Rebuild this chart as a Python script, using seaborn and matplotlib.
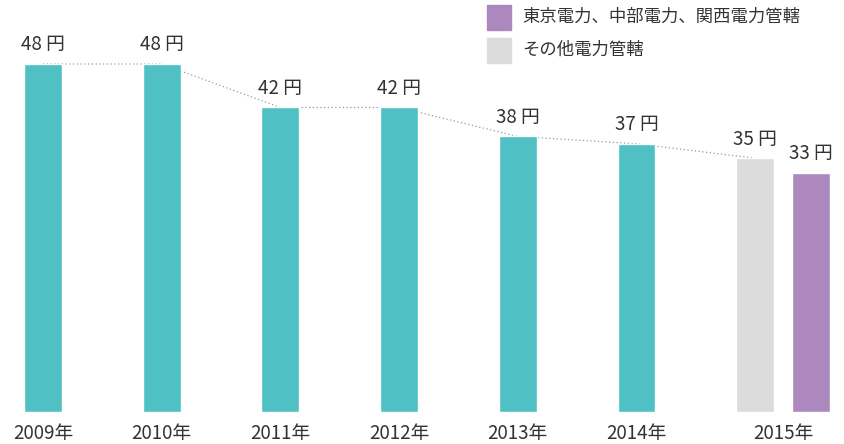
import matplotlib
matplotlib.use("Agg")
from matplotlib import pyplot as plt
from matplotlib.patches import Rectangle
import seaborn as sns

years = ["2009年", "2010年", "2011年", "2012年", "2013年", "2014年", "2015年"]
xpos = [0, 1, 2, 3, 4, 5, 6, 6.47]
values = [48, 48, 42, 42, 38, 37, 35, 33]
groups = ["a", "a", "a", "a", "a", "a", "other", "east"]
legend_labels = ["東京電力、中部電力、関西電力管轄", "その他電力管轄"]

colors = {"a": "#4FC1C4", "other": "#DCDCDC", "east": "#AC88BF"}
txt = "#333333"

sns.set_theme(style="white")
plt.rcParams['font.family'] = ['Noto Sans CJK JP', 'DejaVu Sans']

fig = plt.figure(figsize=(8.44, 4.44), dpi=100)
ax = fig.add_axes([0, 32/444, 1, 412/444])
sns.barplot(x=xpos, y=values, hue=groups, palette=colors, dodge=False,
            native_scale=True, width=0.32/0.47, legend=False, ax=ax, saturation=1)
ax.set_xlim(-0.362, 6.748)
ax.set_ylim(0, 412/7.25)
ax.axis("off")

# dotted trend line across bar tops
ax.plot(xpos[:7], values[:7], ls=(0, (1, 2)), color="#999999", lw=0.9, zorder=0)

for x, v in zip(xpos, values):
    ax.text(x, v + 1.2, f"{v} 円", ha="center", va="bottom", fontsize=13.5, color=txt)

for i, y in enumerate(years):
    x = i if i < 6 else 6.235
    ax.text(x, -1.5, y, ha="center", va="top", fontsize=13.5, color=txt)

# legend
fig.patches.append(Rectangle((487/844, 1-30/444), 24/844, 25/444, transform=fig.transFigure,
                             color=colors["east"]))
fig.patches.append(Rectangle((487/844, 1-63/444), 24/844, 25/444, transform=fig.transFigure,
                             color=colors["other"]))
fig.text(522/844, 1-17/444, legend_labels[0], va="center", fontsize=12.5, color=txt)
fig.text(522/844, 1-50/444, legend_labels[1], va="center", fontsize=12.5, color=txt)

fig.savefig("out.png", dpi=100)
